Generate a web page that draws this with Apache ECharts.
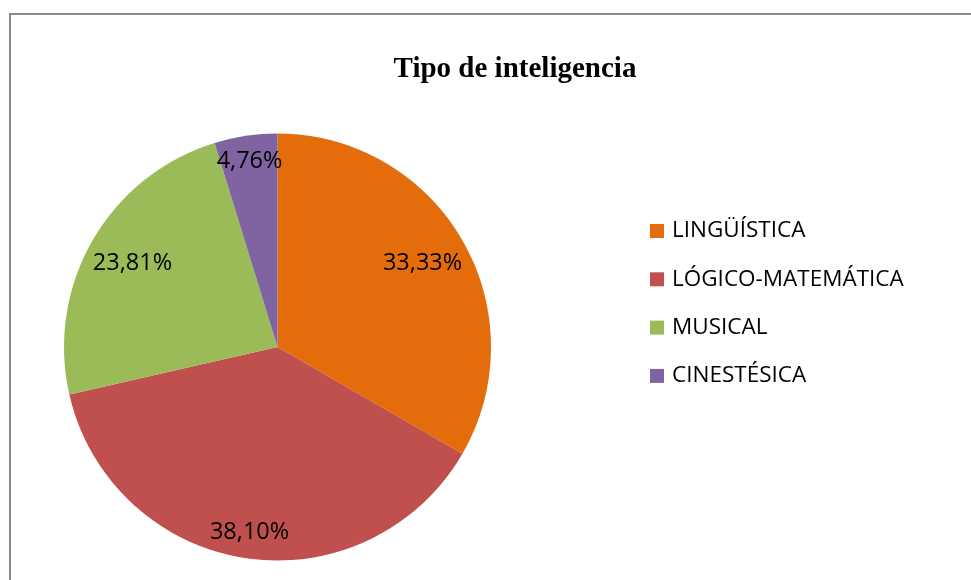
<!DOCTYPE html>
<html>
<head>
<meta charset="utf-8">
<script src="https://cdn.jsdelivr.net/npm/echarts@6/dist/echarts.min.js"></script>
<style>
html,body{margin:0;padding:0;background:#fff;}
#chart{width:971px;height:580px;}
</style>
</head>
<body>
<div id="chart"></div>
<script>
const titleText = 'Tipo de inteligencia';
const categories = ['LINGÜÍSTICA', 'LÓGICO-MATEMÁTICA', 'MUSICAL', 'CINESTÉSICA'];
const values = [33.33, 38.10, 23.81, 4.76];
const colors = ['#E46C0A', '#C0504D', '#9BBB59', '#8064A2'];
// which helper ring carries each slice label (Excel best-fit placement)
const labelRing = [0, 1, 0, 1];

const fmt = v => v.toFixed(2).replace('.', ',') + '%';

const center = [277.5, 347];
const labelFont = {fontFamily: 'Open Sans', fontSize: 23.5, color: '#000', padding: [4, 0, 0, 0]};

function helper(ringIdx, outer) {
  return {
    type: 'pie', name: 'lbl' + ringIdx, silent: true, legendHoverLink: false,
    center: center, radius: [0, outer], startAngle: 90, clockwise: true,
    itemStyle: {color: 'rgba(0,0,0,0)'},
    labelLine: {show: false},
    emphasis: {disabled: true},
    animation: false,
    data: categories.map((c, i) => ({
      name: c, value: values[i],
      label: {show: labelRing[i] === ringIdx, position: 'inside', formatter: () => fmt(values[i]), ...labelFont}
    }))
  };
}

const chart = echarts.init(document.getElementById('chart'), null, {renderer: 'canvas'});
chart.setOption({
  animation: false,
  backgroundColor: '#fff',
  title: {
    text: titleText, left: 510, top: 50, textAlign: 'center',
    textStyle: {fontFamily: 'Liberation Serif', fontWeight: 'bold', fontSize: 29, color: '#000'}
  },
  graphic: [{
    type: 'rect', silent: true, z: -1,
    shape: {x: 10, y: 14, width: 1000, height: 620},
    style: {fill: 'none', stroke: '#8a8a8a', lineWidth: 2}
  }],
  legend: {
    orient: 'vertical', left: 645, top: 214,
    icon: 'rect', itemWidth: 14, itemHeight: 14, itemGap: 24.3,
    data: categories,
    textStyle: {fontFamily: 'Open Sans', fontSize: 22.5, color: '#000', lineHeight: 24, padding: [0, 0, 0, 3]}
  },
  series: [
    {
      type: 'pie', name: 'main', center: center, radius: [0, 213.5],
      startAngle: 90, clockwise: true,
      label: {show: false}, labelLine: {show: false},
      emphasis: {disabled: true},
      data: categories.map((c, i) => ({name: c, value: values[i], itemStyle: {color: colors[i]}}))
    },
    helper(0, 329),
    helper(1, 369)
  ]
});
</script>
</body>
</html>
